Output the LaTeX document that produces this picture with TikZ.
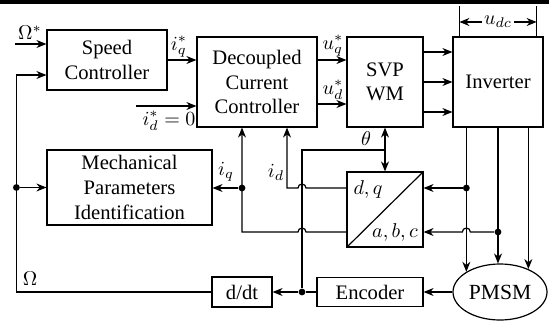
\documentclass[tikz,border=0pt]{standalone}
\usepackage{fontspec}
\setmainfont{Liberation Serif}
\usetikzlibrary{shapes.geometric, arrows.meta, positioning, calc}

\tikzstyle{block} = [rectangle, draw=black, line width=0.6pt, align=center, inner sep=1pt, font=\fontsize{10.3}{12.3}\selectfont]
\tikzstyle{motor} = [ellipse, draw=black, line width=0.6pt, inner sep=0pt, font=\fontsize{10.8}{12}\selectfont]
\tikzstyle{lbl} = [inner sep=1pt, font=\fontsize{10.3}{12}\selectfont]
\tikzstyle{junction} = [circle, fill=black, inner sep=0pt, minimum size=3.4pt]
\tikzstyle{signal} = [line width=0.6pt, ->, >={Stealth[length=5pt, width=4pt]}]
\tikzstyle{wire} = [line width=0.6pt]

\begin{document}
\begin{tikzpicture}[x=0.5pt, y=-0.5pt]

    \useasboundingbox (0,0) rectangle (549,320);
    \fill (0,0) rectangle (549,4.5);

    % blocks
    \node (speed) [block, minimum width=60pt, minimum height=30pt] at (107,60) {Speed\\Controller};
    \node (dcc) [block, minimum width=60pt, minimum height=45pt] at (257,82) {Decoupled\\Current\\Controller};
    \node (svpwm) [block, minimum width=38pt, minimum height=45pt] at (385,82) {SVP\\WM};
    \node (inv) [block, minimum width=45pt, minimum height=45pt] at (498,82) {Inverter};
    \node (mech) [block, minimum width=82.5pt, minimum height=37.5pt] at (129.5,187.5) {Mechanical\\Parameters\\Identification};
    \node (trans) [block, minimum width=38pt, minimum height=37.5pt] at (385,209.5) {};
    \node (pmsm) [motor, minimum width=47pt, minimum height=28pt] at (500,292) {PMSM};
    \node (enc) [block, minimum width=53pt, minimum height=14.5pt] at (370,292) {Encoder};
    \node (ddt) [block, minimum width=30pt, minimum height=15pt] at (242,292) {d/dt};

    \draw [wire] (trans.south west) -- (trans.north east);
    \node [lbl] at (368,189) {$d,q$};
    \node [lbl] at (395,232) {$a,b,c$};

    % references
    \coordinate (wref) at ([xshift=-15.5pt, yshift=8pt]speed.west);
    \coordinate (win) at ([xshift=-15pt, yshift=-7.5pt]speed.west);
    \coordinate (idref) at ([xshift=-30pt, yshift=-12pt]dcc.west);

    \draw [signal] (wref) -- (wref -| speed.west);
    \node [lbl] at (30,33) {$\Omega^{*}$};

    \draw [signal] (speed.east) -- (speed.east -| dcc.west);
    \node [lbl] at (179,47) {$i_q^{*}$};

    \draw [signal] (idref) -- (idref -| dcc.west);
    \node [lbl] at (169,121) {$i_d^{*}=0$};

    \draw [signal] ([yshift=11pt]dcc.east) -- ([yshift=11pt]dcc.east -| svpwm.west);
    \draw [signal] ([yshift=-11pt]dcc.east) -- ([yshift=-11pt]dcc.east -| svpwm.west);
    \node [lbl] at (333,46) {$u_q^{*}$};
    \node [lbl] at (333,90) {$u_d^{*}$};

    \foreach \s in {15pt, 0pt, -15pt}
        \draw [signal] ([yshift=\s]svpwm.east) -- ([yshift=\s]inv.west);

    % dc link voltage
    \coordinate (ledge) at ([xshift=3.5pt]inv.north west);
    \coordinate (redge) at ([xshift=-3.5pt]inv.north east);
    \draw [wire] (ledge) -- ++(0,-30);
    \draw [wire] (redge) -- ++(0,-30);
    \node [lbl] (udc) at (498,22) {$u_{dc}$};
    \draw [signal] (udc.west) -- (udc.west -| ledge);
    \draw [signal] (udc.east) -- (udc.east -| redge);

    % phases to the motor
    \foreach \a in {149, 94, 39}
        \draw [signal] (inv.south -| pmsm.\a) -- (pmsm.\a);

    \coordinate (dqin) at ([yshift=10.75pt]trans.east);
    \coordinate (abcin) at ([yshift=-11.25pt]trans.east);
    \coordinate (dqout) at ([yshift=10.75pt]trans.west);
    \coordinate (abcout) at ([yshift=-11.25pt]trans.west);
    \node [junction] (pa) at (pmsm.149 |- dqin) {};
    \node [junction] (pb) at (pmsm.94 |- abcin) {};
    \draw [signal] (pa) -- (dqin);
    \draw [signal] (pb) -- ($(pa |- abcin)+(4,0)$) arc [start angle=0, end angle=180, radius=2pt] -- (abcin);

    % rotor position
    \coordinate (thc) at (302,150);
    \node [junction] (encj) at (thc |- enc.west) {};
    \draw [wire] (encj) -- (thc) -- (thc -| svpwm.south);
    \draw [signal, <->] (svpwm.south) -- (trans.north);
    \node [lbl] at (366,139) {$\theta$};

    % current feedback
    \coordinate (idup) at (287,188);
    \node [junction] (iqj) at (242,188) {};
    \draw [signal] (dqout) -- ($(thc |- dqout)+(4,0)$) arc [start angle=0, end angle=180, radius=2pt] -- (idup) -- (dcc.south -| idup);
    \draw [signal] (abcout) -- ($(thc |- abcout)+(4,0)$) arc [start angle=0, end angle=180, radius=2pt] -- (iqj |- abcout) -- (dcc.south -| iqj);
    \draw [signal] (iqj) -- (iqj -| mech.east);
    \node [lbl] at (276,172) {$i_d$};
    \node [lbl] at (226,172) {$i_q$};

    % speed feedback
    \draw [signal] (pmsm) -- (enc);
    \draw [wire] (enc) -- (encj);
    \draw [signal] (encj) -- (ddt);
    \draw [signal] (ddt.west) -| (win) -- (win -| speed.west);
    \node [junction] (fbj) at (win |- mech.west) {};
    \draw [signal] (fbj) -- (mech.west);
    \node [lbl] at (30,279) {$\Omega$};

\end{tikzpicture}
\end{document}
